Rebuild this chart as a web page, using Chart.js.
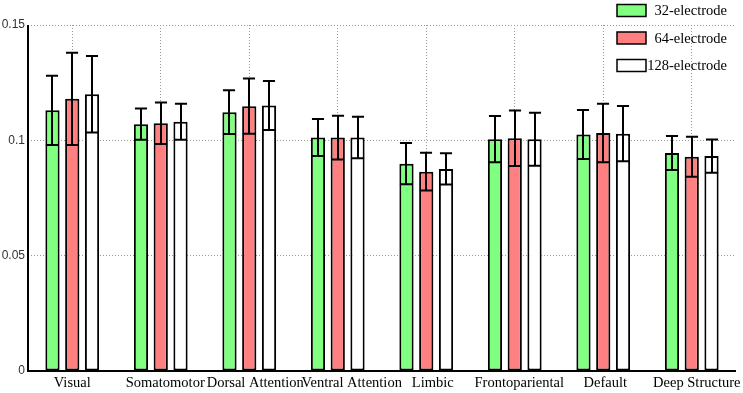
<!DOCTYPE html>
<html>
<head>
<meta charset="utf-8">
<script src="https://cdn.jsdelivr.net/npm/chart.js@4/dist/chart.umd.min.js"></script>
<style>
  html, body { margin: 0; padding: 0; background: #fff; }
  #wrap { width: 743px; height: 393px; position: relative; }
</style>
</head>
<body>
<div id="wrap"><canvas id="c"></canvas></div>
<script>
const categories = ['Visual', 'Somatomotor', 'Dorsal Attention', 'Ventral Attention', 'Limbic', 'Frontopariental', 'Default', 'Deep Structure'];
const seriesLabels = ['32-electrode', '64-electrode', '128-electrode'];
const mean32  = [0.1130, 0.1070, 0.1122, 0.1012, 0.0899, 0.1005, 0.1025, 0.0945];
const err32   = [0.0150, 0.0068, 0.0095, 0.0080, 0.0089, 0.0100, 0.0106, 0.0074];
const mean64  = [0.1180, 0.1074, 0.1148, 0.1012, 0.0864, 0.1009, 0.1032, 0.0929];
const err64   = [0.0200, 0.0090, 0.0120, 0.0095, 0.0082, 0.0120, 0.0127, 0.0087];
const mean128 = [0.1200, 0.1081, 0.1151, 0.1012, 0.0876, 0.1005, 0.1029, 0.0932];
const err128  = [0.0166, 0.0078, 0.0106, 0.0090, 0.0068, 0.0115, 0.0120, 0.0072];
const yTicks = [0, 0.05, 0.1, 0.15];

const colors = ['#80ff80', '#ff8080', '#ffffff'];
const means = [mean32, mean64, mean128];
const errs = [err32, err64, err128];
// small horizontal nudges of the category labels (layout only)
const labelShift = [0, 4.5, 6, 14, 6.5, 4.5, 2, 5];
const serif = '"Liberation Serif", "Times New Roman", serif';

const errorBarPlugin = {
  id: 'errorBars',
  afterDatasetsDraw(chart) {
    const ctx = chart.ctx;
    const y = chart.scales.y;
    const area = chart.chartArea;
    ctx.save();
    ctx.strokeStyle = '#000';
    ctx.lineWidth = 2;
    chart.data.datasets.forEach((ds, di) => {
      const meta = chart.getDatasetMeta(di);
      meta.data.forEach((el, i) => {
        const m = ds.data[i], e = ds.errors[i];
        const x = Math.round(el.x);
        const yt = y.getPixelForValue(m + e);
        const yb = y.getPixelForValue(m - e);
        const capTop = el.width * 0.85;
        const capBot = el.width - 2;
        ctx.beginPath();
        ctx.moveTo(x, yt); ctx.lineTo(x, yb);
        ctx.moveTo(x - capTop / 2, yt); ctx.lineTo(x + capTop / 2, yt);
        ctx.moveTo(x - capBot / 2, yb); ctx.lineTo(x + capBot / 2, yb);
        ctx.stroke();
      });
    });
    // axis lines
    ctx.beginPath();
    ctx.lineWidth = 2;
    ctx.moveTo(area.left, area.top);
    ctx.lineTo(area.left, area.bottom);
    ctx.lineTo(area.right, area.bottom);
    ctx.stroke();
    ctx.restore();
  }
};

const labelPlugin = {
  id: 'xLabels',
  afterDraw(chart) {
    const ctx = chart.ctx;
    const xs = chart.scales.x;
    ctx.save();
    ctx.font = '14.5px ' + serif;
    ctx.fillStyle = '#000';
    ctx.textAlign = 'center';
    ctx.textBaseline = 'middle';
    chart.data.labels.forEach((lab, i) => {
      ctx.fillText(lab, xs.getPixelForTick(i) + labelShift[i], chart.chartArea.bottom + 12);
    });
    ctx.restore();
  }
};

const legendPlugin = {
  id: 'customLegend',
  afterDraw(chart) {
    const ctx = chart.ctx;
    ctx.save();
    ctx.font = '14.5px ' + serif;
    ctx.textAlign = 'right';
    ctx.textBaseline = 'middle';
    chart.data.datasets.forEach((ds, i) => {
      const cy = 10.5 + i * 27.5;
      ctx.fillStyle = ds.backgroundColor;
      ctx.fillRect(617, cy - 6, 29, 12);
      ctx.strokeStyle = '#000';
      ctx.lineWidth = 1.5;
      ctx.strokeRect(617, cy - 6, 29, 12);
      ctx.fillStyle = '#000';
      ctx.fillText(ds.label, 727, cy + 1);
    });
    ctx.restore();
  }
};

const datasets = seriesLabels.map((lab, i) => ({
  label: lab,
  data: means[i],
  errors: errs[i],
  backgroundColor: colors[i],
  borderColor: '#000',
  borderWidth: 2,
  borderSkipped: false,
  categoryPercentage: 0.67,
  barPercentage: 0.72
}));

new Chart(document.getElementById('c'), {
  type: 'bar',
  data: { labels: categories, datasets },
  plugins: [errorBarPlugin, labelPlugin, legendPlugin],
  options: {
    responsive: true,
    maintainAspectRatio: false,
    animation: false,
    layout: { padding: { top: 25, right: 7, left: 0, bottom: 0 } },
    plugins: { legend: { display: false }, tooltip: { enabled: false } },
    scales: {
      x: {
        offset: true,
        grid: { offset: false, color: '#999', lineWidth: 1, drawTicks: false },
        border: { display: false, dash: [1, 2] },
        ticks: { display: false, autoSkip: false, maxRotation: 0, minRotation: 0 },
        afterFit(scale) { scale.height = 22; }
      },
      y: {
        min: 0, max: 0.15,
        afterBuildTicks(scale) { scale.ticks = yTicks.map(v => ({ value: v })); },
        grid: { color: '#999', lineWidth: 1, drawTicks: false },
        border: { display: false, dash: [1, 2] },
        ticks: {
          padding: 3, color: '#333',
          font: { family: '"Liberation Sans", Arial, sans-serif', size: 12 },
          callback: (v) => String(v)
        },
        afterFit(scale) { scale.width = 28; }
      }
    }
  }
});
</script>
</body>
</html>
